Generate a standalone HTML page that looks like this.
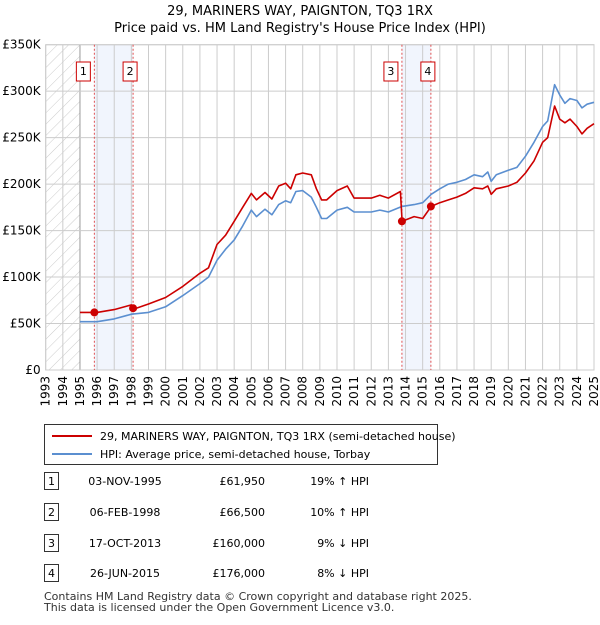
<!DOCTYPE html>
<html><head><meta charset="utf-8"><style>
body{margin:0;background:#fff;font-family:"Liberation Sans","DejaVu Sans",sans-serif;}
svg text{font-family:"DejaVu Sans","Liberation Sans",sans-serif;}
</style></head><body>
<svg id="c" width="600" height="620" xmlns="http://www.w3.org/2000/svg">
<defs><pattern id="h" width="8" height="8" patternUnits="userSpaceOnUse" patternTransform="rotate(45)"><line x1="0" y1="0" x2="0" y2="8" stroke="#ccc" stroke-width="1"/></pattern></defs>
<text x="300" y="15" text-anchor="middle" font-size="13">29, MARINERS WAY, PAIGNTON, TQ3 1RX</text>
<text x="300" y="32" text-anchor="middle" font-size="13">Price paid vs. HM Land Registry's House Price Index (HPI)</text>
<g id="plot"></g>
<g>
<rect x="44.5" y="424.5" width="393" height="40" fill="#fff" stroke="#333"/>
<line x1="52" y1="436" x2="92" y2="436" stroke="#cc0000" stroke-width="2"/>
<text x="100" y="440" font-size="11">29, MARINERS WAY, PAIGNTON, TQ3 1RX (semi-detached house)</text>
<line x1="52" y1="454" x2="92" y2="454" stroke="#5b8fd0" stroke-width="2"/>
<text x="100" y="458" font-size="11">HPI: Average price, semi-detached house, Torbay</text>
</g>
<g id="tbl" font-size="11"></g>
<text x="44" y="600" font-size="11" fill="#333">Contains HM Land Registry data © Crown copyright and database right 2025.</text>
<text x="44" y="611" font-size="11" fill="#333">This data is licensed under the Open Government Licence v3.0.</text>
</svg>
<script>
const hpiYears=[1995,1996,1997,1998,1999,2000,2001,2002,2002.5,2003,2003.5,2004,2004.5,2005,2005.3,2005.8,2006.2,2006.6,2007,2007.3,2007.6,2008,2008.5,2008.8,2009.1,2009.4,2010,2010.6,2011,2012,2012.5,2013,2013.8,2014.5,2015,2015.5,2016,2016.5,2017,2017.5,2018,2018.5,2018.8,2019,2019.3,2020,2020.5,2021,2021.5,2022,2022.3,2022.7,2023,2023.3,2023.6,2024,2024.3,2024.6,2025];
const hpiValues=[52,52,55,60,62,68,80,93,100,118,130,140,155,172,165,173,167,178,182,180,192,193,186,175,163,163,172,175,170,170,172,170,176,178,180,189,195,200,202,205,210,208,213,203,210,215,218,230,245,262,268,307,296,287,292,290,282,286,288];
const redYears=[1995,1996,1997,1998,1998.2,1999,2000,2001,2002,2002.5,2003,2003.5,2004,2004.5,2005,2005.3,2005.8,2006.2,2006.6,2007,2007.3,2007.6,2008,2008.5,2008.8,2009.1,2009.4,2010,2010.6,2011,2012,2012.5,2013,2013.7,2013.8,2014.5,2015,2015.5,2016,2016.5,2017,2017.5,2018,2018.5,2018.8,2019,2019.3,2020,2020.5,2021,2021.5,2022,2022.3,2022.7,2023,2023.3,2023.6,2024,2024.3,2024.6,2025];
const redValues=[62,62,65,70,66,71,78,90,104,110,135,145,160,175,190,183,191,184,198,201,195,210,212,210,195,183,183,193,198,185,185,188,185,192,160,165,163,176,180,183,186,190,196,195,198,189,195,198,202,212,225,245,250,284,270,266,270,262,254,260,265];
const saleYears=[1995.84,1998.1,2013.79,2015.48];
const saleValues=[61.95,66.5,160,176];
const saleLabels=["1","2","3","4"];
const yTicks=[0,50,100,150,200,250,300,350];
const yTickLabels=["£0","£50K","£100K","£150K","£200K","£250K","£300K","£350K"];
const tableDates=["03-NOV-1995","06-FEB-1998","17-OCT-2013","26-JUN-2015"];
const tablePrices=["£61,950","£66,500","£160,000","£176,000"];
const tableHpi=["19% ↑ HPI","10% ↑ HPI","9% ↓ HPI","8% ↓ HPI"];
const X0=45.7,X1=594,Y0=370,Y1=44.7;
const xs=y=>X0+(y-1993)/(2025-1993)*(X1-X0);
const ys=v=>Y0-v/350*(Y0-Y1);
const NS="http://www.w3.org/2000/svg";
const plot=document.getElementById('plot');
function mk(tag,a,p){const e=document.createElementNS(NS,tag);for(const k in a)e.setAttribute(k,a[k]);(p||plot).appendChild(e);return e;}
// hatch
let e=mk('rect',{x:X0,y:Y1,width:xs(1995)-X0,height:Y0-Y1,fill:'url(#h)'});


// bands
[[0,1],[2,3]].forEach(p=>{const b=mk('rect',{x:xs(saleYears[p[0]]),y:Y1,width:xs(saleYears[p[1]])-xs(saleYears[p[0]]),height:Y0-Y1,fill:'#eef3fc',opacity:0.8});

});
// grid
for(let y=1993;y<=2025;y++){const l=mk('line',{x1:xs(y),x2:xs(y),y1:Y1,y2:Y0,stroke:y==1995?'#999':'#ccc'});


const t=mk('text',{x:0,y:0,'font-size':12,'text-anchor':'end',transform:`translate(${xs(y)+4},${Y0+6}) rotate(-90)`});t.textContent=y;

}
yTicks.forEach((v,i)=>{const l=mk('line',{x1:X0,x2:X1,y1:ys(v),y2:ys(v),stroke:'#ccc'});


const t=mk('text',{x:X0-5,y:ys(v)+4,'font-size':12,'text-anchor':'end'});t.textContent=yTickLabels[i];

});
mk('rect',{x:X0,y:Y1,width:X1-X0,height:Y0-Y1,fill:'none',stroke:'#ccc'});
// sale vlines
saleYears.forEach((s,i)=>{const l=mk('line',{x1:xs(s),x2:xs(s),y1:Y1,y2:Y0,stroke:'#e05050','stroke-dasharray':'2,2'});


const bx=i%2==0?xs(s)-18:xs(s)-10;
const r=mk('rect',{x:bx,y:62,width:14,height:19,fill:'#fff',stroke:'#cc0000'});


const t=mk('text',{x:bx+7,y:75,'font-size':11,'text-anchor':'middle'});t.textContent=saleLabels[i];

});
function line(xa,va,col,name){const d=xa.map((x,i)=>(i?'L':'M')+xs(x).toFixed(1)+','+ys(va[i]).toFixed(1)).join('');
const p=mk('path',{d:d,fill:'none',stroke:col,'stroke-width':1.6,'stroke-linejoin':'round'});

}
line(hpiYears,hpiValues,'#5b8fd0','hpi-line');
line(redYears,redValues,'#cc0000','price-paid-line');
saleYears.forEach((s,i)=>{const c=mk('circle',{cx:xs(s),cy:ys(saleValues[i]),r:4,fill:'#cc0000'});

});
// table
const tbl=document.getElementById('tbl');
const rowY=[483,514,545,575];
rowY.forEach((y,i)=>{const r=mk('rect',{x:44.5,y:y-10.5,width:14,height:17,fill:'#fff',stroke:'#333'},tbl);


const vals=[[51.5,'middle',saleLabels[i]],[125,'middle',tableDates[i]],[265,'end',tablePrices[i]],[369,'end',tableHpi[i]]];
vals.forEach(v=>{const t=mk('text',{x:v[0],y:y+2,'text-anchor':v[1]},tbl);t.textContent=v[2];

});});
</script>
</body></html>
